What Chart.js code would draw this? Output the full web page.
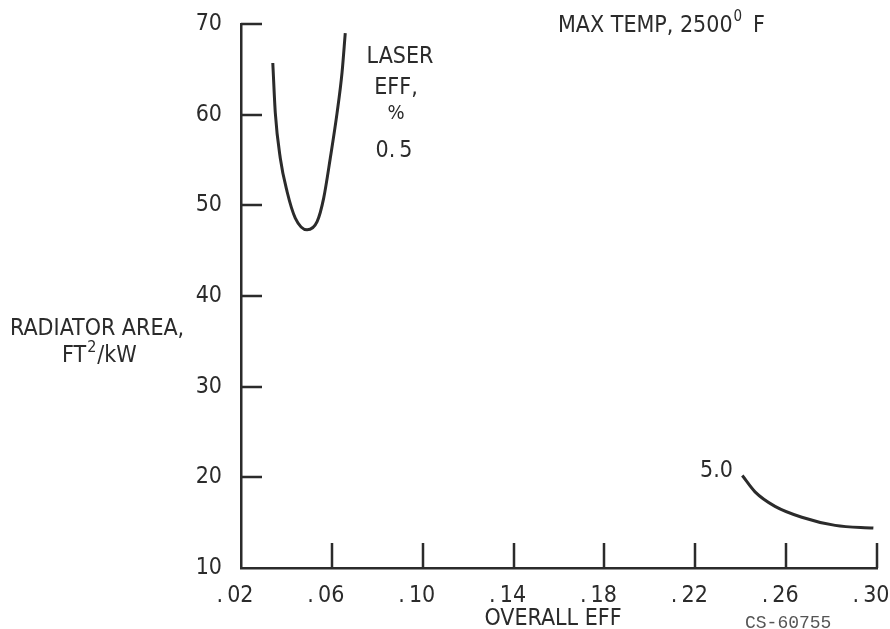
<!DOCTYPE html>
<html>
<head>
<meta charset="utf-8">
<script src="https://cdn.jsdelivr.net/npm/chart.js@4/dist/chart.umd.min.js"></script>
<style>
  html, body { margin: 0; padding: 0; background: #fff; }
  #wrap { width: 890px; height: 629px; position: relative; }
</style>
</head>
<body>
<div id="wrap"><canvas id="chart" width="890" height="629"></canvas></div>
<script>
const xTicks = [0.02, 0.06, 0.10, 0.14, 0.18, 0.22, 0.26, 0.30];
const yTicks = [10, 20, 30, 40, 50, 60, 70];

// laser eff 0.5 %
const eff05X = [0.0340, 0.0351, 0.0373, 0.0403, 0.0439, 0.0491, 0.0535, 0.0564, 0.0593, 0.0623, 0.0645, 0.0659];
const eff05Y = [65.7, 60.2, 55.2, 51.5, 48.6, 47.3, 48.2, 50.8, 55.2, 60.2, 64.7, 69.0];
// laser eff 5.0 %
const eff50X = [0.2407, 0.2463, 0.2551, 0.2669, 0.2816, 0.2984];
const eff50Y = [20.2, 18.4, 16.8, 15.6, 14.7, 14.4];

const INK = "#2b2b2b";
const FONT = "'DejaVu Sans Condensed', 'DejaVu Sans', sans-serif";

function pts(xs, ys) {
  return xs.map((x, i) => ({ x: x, y: ys[i] }));
}

function fmtX(v) {
  return ".\u2009" + Math.round(v * 100).toString().padStart(2, "0");
}

// tick marks point into the plot, and the text notes
const marks = {
  id: "marks",
  afterDraw(c) {
    const ctx = c.ctx;
    const xs = c.scales.x, ys = c.scales.y;
    const a = c.chartArea;
    ctx.save();
    ctx.strokeStyle = INK;
    ctx.lineWidth = 2.5;
    ctx.beginPath();
    yTicks.slice(1).forEach(v => {
      const y = Math.round(ys.getPixelForValue(v));
      ctx.moveTo(a.left, y);
      ctx.lineTo(a.left + 21, y);
    });
    xTicks.slice(1).forEach(v => {
      const x = Math.round(xs.getPixelForValue(v));
      ctx.moveTo(x, a.bottom);
      ctx.lineTo(x, a.bottom - 25);
    });
    ctx.stroke();

    ctx.fillStyle = INK;
    ctx.font = "23px " + FONT;
    ctx.textBaseline = "alphabetic";

    ctx.textAlign = "left";
    ctx.fillText("MAX TEMP, 2500", 558, 32);
    let w = ctx.measureText("MAX TEMP, 2500").width;
    ctx.font = "15px " + FONT;
    ctx.fillText("0", 558 + w + 1, 21);
    ctx.font = "23px " + FONT;
    ctx.fillText("F", 753, 32);

    ctx.textAlign = "center";
    ctx.fillText("LASER", 400, 63);
    ctx.fillText("EFF,", 396, 94);
    ctx.font = "20px " + FONT;
    ctx.fillText("%", 396, 119);
    ctx.font = "23px " + FONT;
    ctx.fillText("0.\u20095", 394, 157);

    ctx.textAlign = "right";
    ctx.fillText("5.0", 733, 477);

    ctx.textAlign = "left";
    ctx.fillText("RADIATOR AREA,", 10, 335);
    ctx.fillText("FT", 62, 362);
    w = ctx.measureText("FT").width;
    ctx.font = "16px " + FONT;
    ctx.fillText("2", 62 + w + 1, 352);
    const w2 = ctx.measureText("2").width;
    ctx.font = "23px " + FONT;
    ctx.fillText("/kW", 62 + w + w2 + 2, 362);

    ctx.textAlign = "center";
    ctx.fillText("OVERALL EFF", 553, 625);

    ctx.textAlign = "left";
    ctx.fillStyle = "#555";
    ctx.font = "18px 'Liberation Mono', 'DejaVu Sans Mono', monospace";
    ctx.fillText("CS-60755", 745, 628);
    ctx.restore();
  }
};

const chart = new Chart(document.getElementById("chart"), {
  type: "scatter",
  data: {
    datasets: [
      { label: "0.5", data: pts(eff05X, eff05Y) },
      { label: "5.0", data: pts(eff50X, eff50Y) }
    ]
  },
  options: {
    responsive: false,
    animation: false,
    events: [],
    layout: { padding: { left: 0, top: 24, right: 13, bottom: 0 } },
    elements: {
      point: { radius: 0 },
      line: { borderColor: INK, borderWidth: 3, cubicInterpolationMode: "monotone", fill: false }
    },
    datasets: { scatter: { showLine: true, clip: false } },
    plugins: { legend: { display: false }, tooltip: { enabled: false } },
    scales: {
      x: {
        type: "linear",
        min: 0.02,
        max: 0.30,
        afterBuildTicks: s => { s.ticks = xTicks.map(v => ({ value: v })); },
        afterFit: s => { s.height = 61; s.paddingLeft = 0; s.paddingRight = 0; },
        grid: { display: false },
        border: { display: true, color: INK, width: 2.5 },
        ticks: {
          color: INK,
          font: { family: FONT, size: 23 },
          padding: 6,
          labelOffset: -6,
          maxRotation: 0,
          autoSkip: false,
          callback: v => fmtX(v)
        }
      },
      y: {
        type: "linear",
        min: 10,
        max: 70,
        afterBuildTicks: s => { s.ticks = yTicks.map(v => ({ value: v })); },
        afterFit: s => { s.width = 241; s.paddingTop = 0; s.paddingBottom = 0; },
        grid: { display: false },
        border: { display: true, color: INK, width: 2.5 },
        ticks: {
          color: INK,
          font: { family: FONT, size: 23 },
          padding: 11,
          autoSkip: false,
          callback: v => String(v)
        }
      }
    }
  },
  plugins: [marks]
});
</script>
</body>
</html>
